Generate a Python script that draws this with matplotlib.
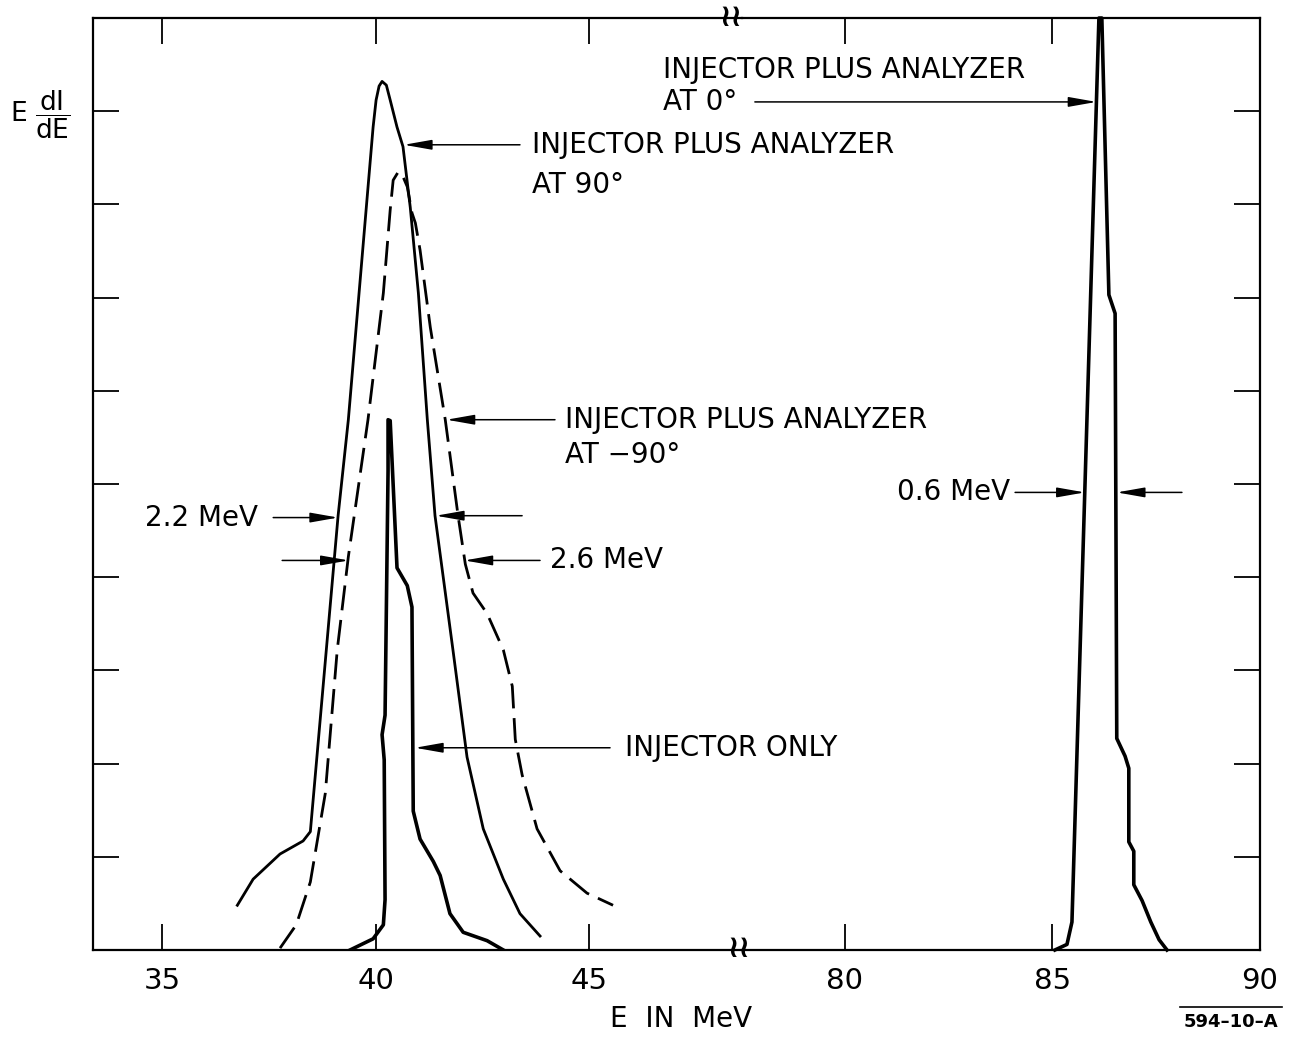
import matplotlib.pyplot as plt
from matplotlib.lines import Line2D

# Energy spectra, E dI/dE in arbitrary units (full scale = 10)
# injector plus analyzer at 90 deg (solid, broad)
e_90 = [36.76, 37.13, 37.76, 38.30, 38.47, 39.12, 39.36, 39.94, 40.01, 40.08,
        40.15, 40.25, 40.34, 40.50, 40.64, 40.81, 41.00, 41.21, 41.39, 41.81,
        42.14, 42.52, 42.99, 43.38, 43.85]
i_90 = [0.48, 0.76, 1.03, 1.17, 1.27, 4.66, 5.69, 8.83, 9.12, 9.27,
        9.32, 9.28, 9.12, 8.83, 8.62, 7.97, 7.05, 5.69, 4.66, 3.22,
        2.07, 1.30, 0.76, 0.39, 0.15]

# injector plus analyzer at -90 deg (dashed)
e_m90 = [37.76, 38.14, 38.47, 38.82, 39.10, 39.36, 39.82, 40.18, 40.34, 40.41,
         40.53, 40.62, 40.74, 40.85, 40.93, 41.04, 41.28, 41.63, 41.93, 42.10,
         42.28, 42.61, 42.99, 43.20, 43.27, 43.43, 43.78, 44.32, 44.95, 45.56]
i_m90 = [0.02, 0.27, 0.73, 1.68, 3.22, 4.22, 5.69, 7.05, 7.94, 8.26,
         8.35, 8.32, 8.19, 7.91, 7.80, 7.51, 6.68, 5.69, 4.66, 4.14,
         3.83, 3.61, 3.22, 2.83, 2.26, 1.88, 1.30, 0.85, 0.61, 0.48]

# injector only
e_inj = [39.40, 39.94, 40.18, 40.22, 40.20, 40.15, 40.22, 40.29, 40.29, 40.34,
         40.50, 40.74, 40.85, 40.88, 41.04, 41.35, 41.51, 41.74, 42.05, 42.61, 42.99]
i_inj = [0.0, 0.12, 0.27, 0.54, 2.04, 2.31, 2.52, 5.14, 5.69, 5.68,
         4.10, 3.91, 3.68, 1.49, 1.19, 0.95, 0.80, 0.39, 0.19, 0.10, 0.0]

# injector plus analyzer at 0 deg
e_0 = [85.06, 85.35, 85.47, 86.12, 86.19, 86.36, 86.51, 86.55, 86.75, 86.84,
       86.84, 86.96, 86.96, 87.16, 87.37, 87.57, 87.76]
i_0 = [0.0, 0.06, 0.30, 10.0, 10.0, 7.03, 6.83, 2.27, 2.08, 1.95,
       1.16, 1.06, 0.70, 0.53, 0.30, 0.11, 0.0]

low_ticks = [35, 40, 45]
high_ticks = [80, 85, 90]
y_ticks = [1, 2, 3, 4, 5, 6, 7, 8, 9]

fig = plt.figure(figsize=(12.92, 10.37), dpi=100)
ax1 = fig.add_axes([0.072, 0.0839, 0.5023, 0.8987])
ax2 = fig.add_axes([0.5743, 0.0839, 0.4009, 0.8987])
ax2.patch.set_visible(False)

ax1.plot(e_90, i_90, color='black', lw=2.0, solid_joinstyle='round')
ax1.plot(e_m90, i_m90, color='black', lw=2.0, linestyle=(0, (9, 3.5)))
ax1.plot(e_inj, i_inj, color='black', lw=2.6, solid_joinstyle='round')
ax2.plot(e_0, i_0, color='black', lw=2.6, solid_joinstyle='round', clip_on=False)

ax1.set_xlim(33.38, 48.58)
ax2.set_xlim(77.52, 90)
for ax in (ax1, ax2):
    ax.set_ylim(0, 10)
    ax.set_yticks(y_ticks)
    ax.tick_params(axis='both', direction='in', length=19, width=1.3,
                   top=True, labelsize=21, pad=12)
    for s in ax.spines.values():
        s.set_linewidth(1.6)
ax1.set_xticks(low_ticks)
ax2.set_xticks(high_ticks)
ax1.spines['right'].set_visible(False)
ax2.spines['left'].set_visible(False)
ax1.tick_params(axis='y', left=True, right=False, labelleft=False)
ax2.tick_params(axis='y', left=False, right=True, labelleft=False, labelright=False)

# axis break marks
fig.text(0.5658, 0.9836, '≀≀', ha='center', va='center', fontsize=22, fontweight='bold')
fig.text(0.5720, 0.0858, '≀≀', ha='center', va='center', fontsize=22, fontweight='bold')

arrow = dict(arrowstyle='-|>,head_length=1.7,head_width=0.3', color='black',
             lw=1.1, mutation_scale=10, shrinkA=0, shrinkB=0)
fs = 20

# 90 deg
ax1.annotate('', xy=(40.66, 8.64), xytext=(43.38, 8.64), arrowprops=arrow)
ax1.text(43.67, 8.64, 'INJECTOR PLUS ANALYZER', fontsize=fs, va='center')
ax1.text(43.67, 8.21, 'AT 90°', fontsize=fs, va='center')

# -90 deg
ax1.annotate('', xy=(41.66, 5.69), xytext=(44.20, 5.69), arrowprops=arrow)
ax1.text(44.44, 5.69, 'INJECTOR PLUS ANALYZER', fontsize=fs, va='center')
ax1.text(44.44, 5.31, 'AT \u221290°', fontsize=fs, va='center')

# widths of the broad peaks
ax1.text(37.25, 4.64, '2.2 MeV', fontsize=fs, va='center', ha='right')
ax1.annotate('', xy=(39.12, 4.64), xytext=(37.60, 4.64), arrowprops=arrow)
ax1.annotate('', xy=(39.37, 4.18), xytext=(37.81, 4.18), arrowprops=arrow)
ax1.annotate('', xy=(41.41, 4.66), xytext=(43.43, 4.66), arrowprops=arrow)
ax1.annotate('', xy=(42.08, 4.18), xytext=(43.85, 4.18), arrowprops=arrow)
ax1.text(44.09, 4.18, '2.6 MeV', fontsize=fs, va='center')

# injector only
ax1.annotate('', xy=(40.92, 2.17), xytext=(45.49, 2.17), arrowprops=arrow)
ax1.text(45.84, 2.17, 'INJECTOR ONLY', fontsize=fs, va='center')

# 0 deg
ax2.text(83.98, 4.91, '0.6 MeV', fontsize=fs, va='center', ha='right')
ax2.annotate('', xy=(85.78, 4.91), xytext=(84.10, 4.91), arrowprops=arrow)
ax2.annotate('', xy=(86.55, 4.91), xytext=(88.12, 4.91), arrowprops=arrow)
ax2.annotate('', xy=(86.06, 9.10), xytext=(77.83, 9.10), arrowprops=arrow)
ax2.text(75.61, 9.44, 'INJECTOR PLUS ANALYZER', fontsize=fs, va='center')
ax2.text(75.61, 9.10, 'AT 0°', fontsize=fs, va='center')

fig.text(0.031, 0.889, r'$\mathrm{E}\ \dfrac{\mathrm{dI}}{\mathrm{dE}}$',
         fontsize=19, ha='center', va='center')
fig.text(0.527, 0.017, 'E  IN  MeV', fontsize=20, ha='center', va='center')
fig.text(0.9525, 0.0145, '594\u201310\u2013A', fontsize=13, fontweight='bold',
         ha='center', va='center')
fig.add_artist(Line2D([0.913, 0.992], [0.029, 0.029], color='black', lw=1.2))

fig.savefig('out.png', dpi=100)
